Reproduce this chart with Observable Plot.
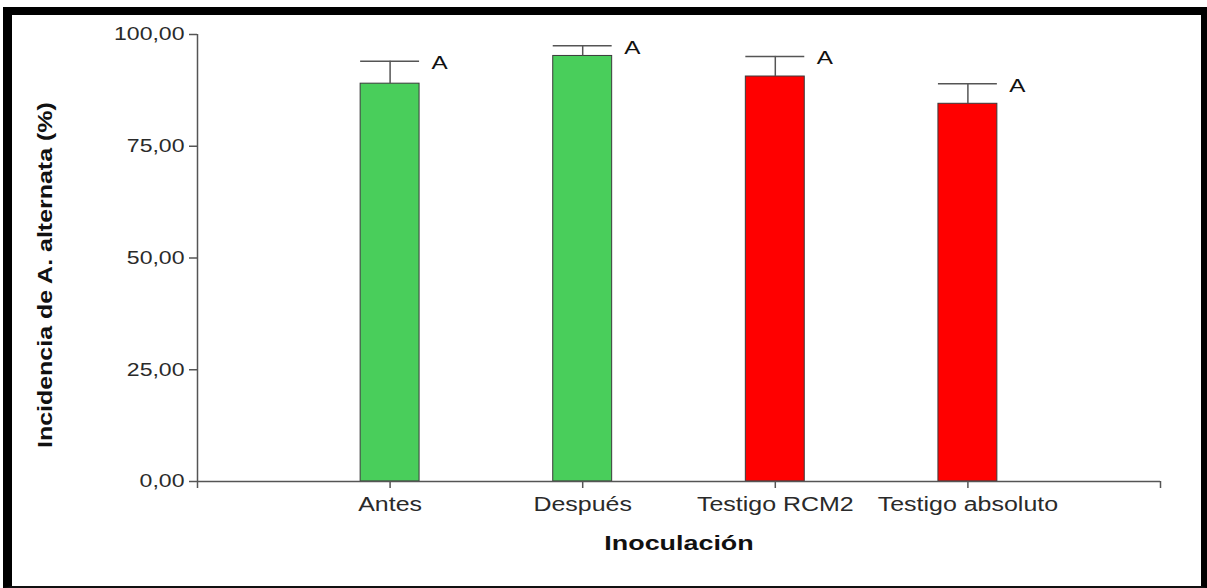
<!DOCTYPE html>
<html>
<head>
<meta charset="utf-8">
<script src="https://cdn.jsdelivr.net/npm/d3@7"></script>
<script src="https://cdn.jsdelivr.net/npm/@observablehq/plot@0.6"></script>
<style>
  html, body { margin: 0; padding: 0; background: #fff; width: 1207px; height: 588px; overflow: hidden; }
  #frame { position: absolute; left: 3px; top: 7px; right: 0; bottom: 0; box-sizing: border-box;
           border-top: 8px solid #000; border-left: 9px solid #000; border-right: 6px solid #000; border-bottom: 2px solid #111; }
  #chart { position: absolute; left: 0; top: 0; }
</style>
</head>
<body>
<div id="frame"></div>
<div id="chart"></div>
<script>
// ---- data ----
const categories = ["Antes", "Después", "Testigo RCM2", "Testigo absoluto"];
const means      = [89.0, 95.2, 90.6, 84.5];
const errors     = [5.0, 2.3, 4.5, 4.5];
const groups     = ["verde", "verde", "rojo", "rojo"];
const letters    = ["A", "A", "A", "A"];
const yTicks     = [0, 25, 50, 75, 100];
const xTicks     = [0, 1, 2, 3, 4, 5];

const rows = categories.map((c, i) => ({
  cat: c, pos: i + 1, mean: means[i], err: errors[i], top: means[i] + errors[i],
  group: groups[i], letter: letters[i]
}));
const half = 0.153;
const axisColor = "#555";
const font = "'Liberation Sans', Arial, sans-serif";

const svg = Plot.plot({
  width: 1207, height: 588,
  marginLeft: 197, marginRight: 47, marginTop: 34, marginBottom: 107,
  style: { background: "transparent", fontFamily: font, fontSize: "19px", color: "#2a2a2a", overflow: "visible" },
  x: { domain: [0, 5], axis: null },
  y: { domain: [0, 100], axis: null },
  color: { domain: ["verde", "rojo"], range: ["#49ce5b", "#ff0000"] },
  marks: [
    Plot.rectY(rows, { x1: d => d.pos - half, x2: d => d.pos + half, y1: 0, y2: "mean", fill: "group", stroke: "#3a3a3a", strokeWidth: 1 }),
    Plot.ruleX(rows, { x: "pos", y1: "mean", y2: "top", stroke: axisColor, strokeWidth: 1.5 }),
    Plot.ruleY(rows, { y: "top", x1: d => d.pos - half, x2: d => d.pos + half, stroke: axisColor, strokeWidth: 1.5 }),
    Plot.ruleX([0], { y1: 0, y2: 100, stroke: axisColor, strokeWidth: 1.5 }),
    Plot.ruleY([0], { x1: 0, x2: 5, stroke: axisColor, strokeWidth: 1.5 }),
    Plot.axisY({ ticks: yTicks, tickSize: 8, tickPadding: 5, fontSize: 18, stroke: axisColor, strokeWidth: 1.5,
                 tickFormat: d => d.toFixed(2).replace(".", ","), label: null }),
    Plot.axisX({ ticks: xTicks, tickSize: 7, tickPadding: 9, fontSize: 19.5, stroke: axisColor, strokeWidth: 1.5,
                 tickFormat: d => categories[d - 1] ?? "", label: null }),
    Plot.text(rows, { x: d => d.pos + half, y: "top", text: "letter", textAnchor: "start", dx: 12, dy: 2, fontSize: 19, fill: "#111" }),
    Plot.text(["Incidencia de A. alternata (%)"], { frameAnchor: "left", dx: -152, dy: 190, rotate: -90, textAnchor: "start", fontSize: 19.5, fontWeight: "bold", fill: "#111" }),
    Plot.text(["Inoculación"], { frameAnchor: "bottom", dy: 68, fontSize: 21, fontWeight: "bold", fill: "#111" })
  ]
});
document.getElementById("chart").appendChild(svg);

// widen glyphs like the reference (its lettering is set wider than Arial)
const k = 1.28;
svg.querySelectorAll("text").forEach(t => {
  const L = t.getComputedTextLength();
  if (L > 0) {
    t.setAttribute("textLength", (L * k).toFixed(1));
    t.setAttribute("lengthAdjust", "spacingAndGlyphs");
  }
});
</script>
</body>
</html>
